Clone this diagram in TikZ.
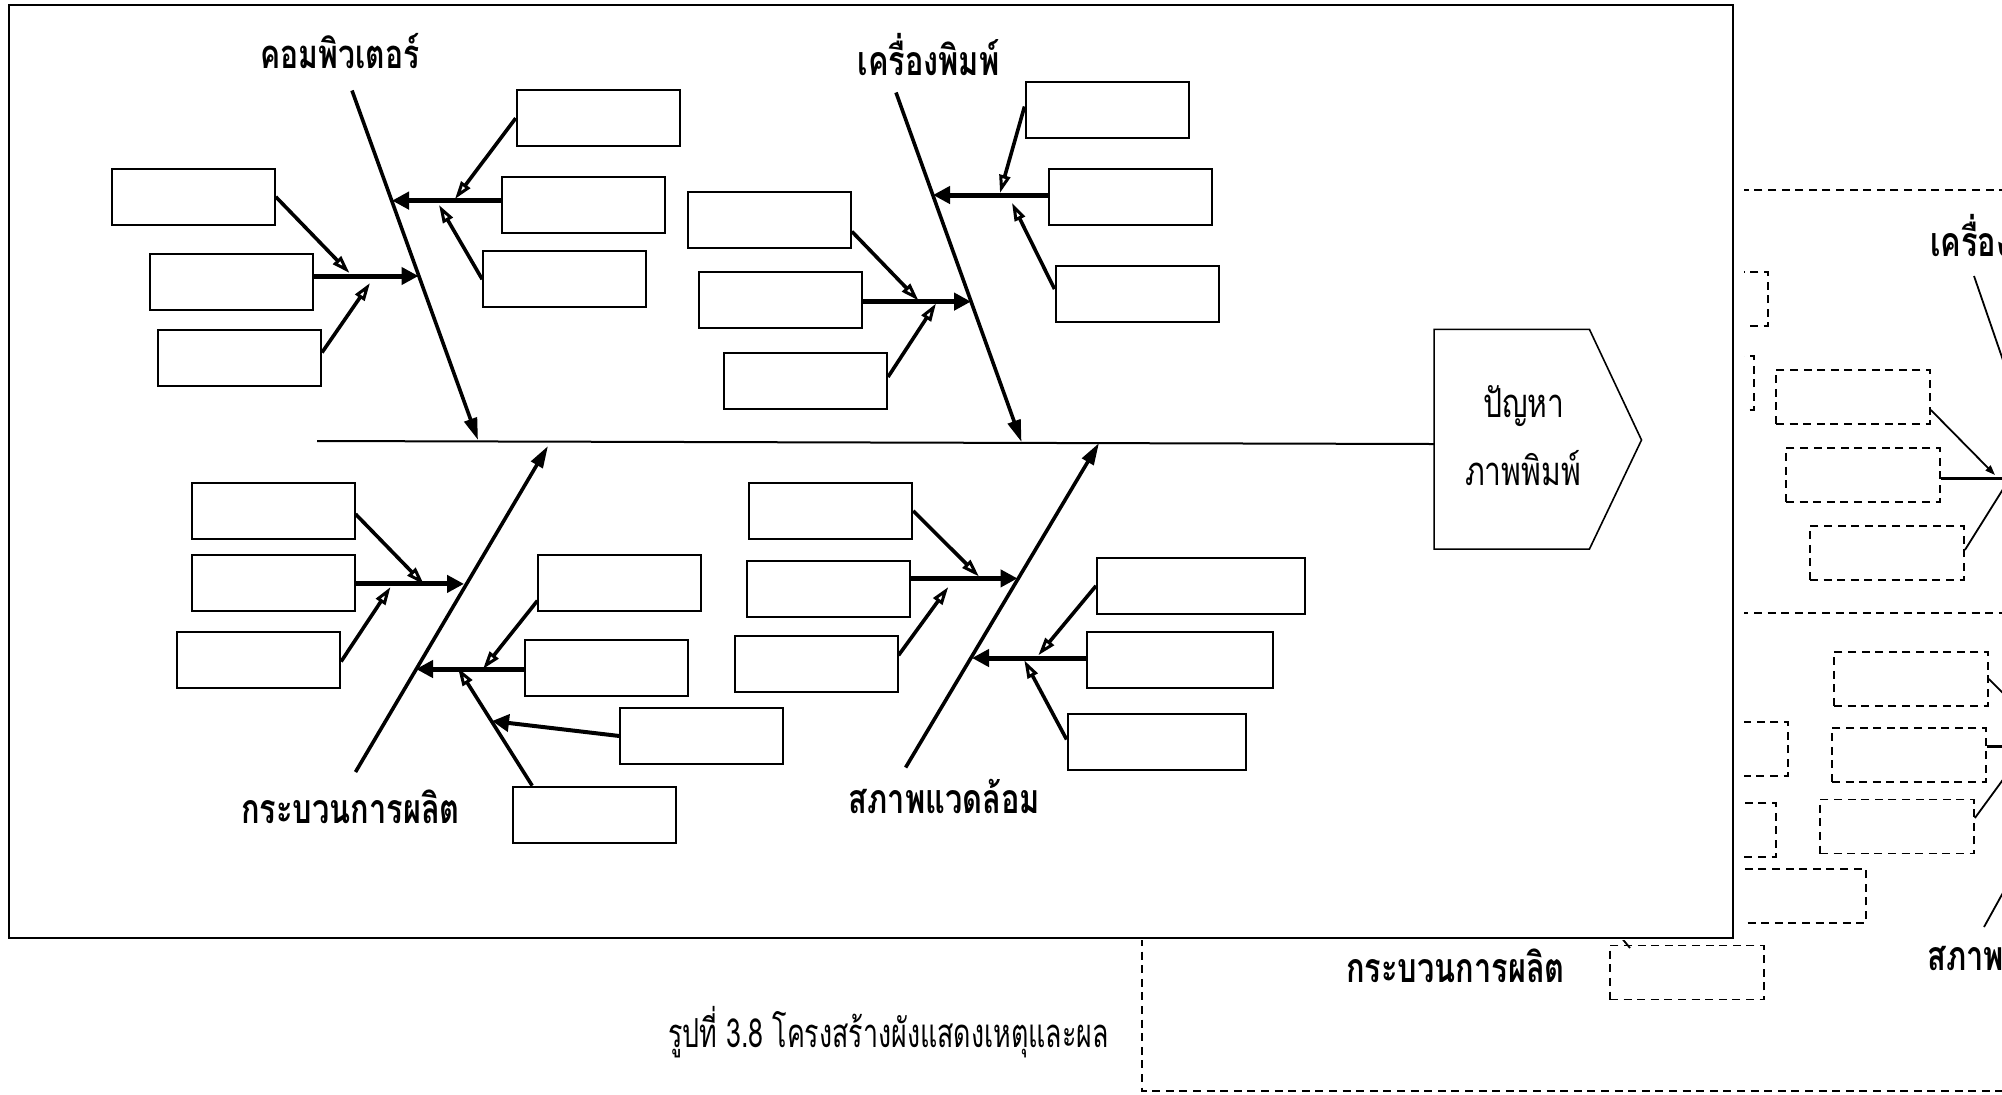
\documentclass[tikz,border=0pt]{standalone}
\usepackage{fontspec}
\newfontfamily\thai[Script=Thai,FakeStretch=0.75]{Loma}
\newfontfamily\thaicap[Script=Thai,FakeStretch=0.67]{Loma}
\usetikzlibrary{arrows.meta}
\begin{document}
\begin{tikzpicture}[x=0.5pt,y=-0.5pt,
  box/.style={draw,line width=1pt,minimum width=81.5pt,minimum height=28pt,inner sep=0pt},
  dbox/.style={draw,line width=0.9pt,dash pattern=on 4pt off 2.8pt,minimum width=77pt,minimum height=27pt,inner sep=0pt},
  dline/.style={line width=0.9pt,dash pattern=on 4pt off 2.8pt},
  rib/.style={line width=1.8pt,-{Triangle[length=11pt,width=6.5pt]}},
  ribopen/.style={line width=1.8pt,-{Triangle[open,length=9pt,width=5.5pt,line width=1.5pt]}},
  sub/.style={line width=2.5pt,-{Triangle[length=8.5pt,width=8.5pt]}},
  twig/.style={line width=1.8pt,-{Triangle[open,length=9pt,width=5.5pt,line width=1.5pt]}},
  bgl/.style={line width=0.9pt},
  lab/.style={font=\thai\bfseries\fontsize{20.5}{24}\selectfont,inner sep=0pt,anchor=base},
  txt/.style={font=\thai\fontsize{20}{24}\selectfont,inner sep=0pt,anchor=base}]
\useasboundingbox (0,0) rectangle (2002,1094);
\clip (0,0) rectangle (2002,1094);

% ---------- background (partly hidden) diagram ----------
\draw[dline] (1142,190) rectangle (2020,1091);
\draw[dline] (1142,613) -- (2020,613);
\node[dbox] (bA) at (1691,299) {};
\node[dbox] (bB) at (1677,383) {};
\node[dbox] (bC) at (1853,397) {};
\node[dbox] (bD) at (1863,475) {};
\node[dbox] (bE) at (1887,553) {};
\node[dbox] (bF) at (1911,679) {};
\node[dbox] (bG) at (1711,749) {};
\node[dbox] (bH) at (1909,755) {};
\node[dbox] (bI) at (1699,830) {};
\node[dbox] (bJ) at (1897,826.5) {};
\node[dbox,minimum width=100pt] (bK) at (1766,896) {};
\node[dbox] (bL) at (1687,972.5) {};
\coordinate (bR1a) at (1974,276);
\coordinate (bR1b) at (2016,398);
\draw[bgl] (bR1a) -- (bR1b);
\draw[bgl,-{Triangle[length=5pt,width=3.5pt]}] (bC.east |- 0,410) -- (1995,475);
\draw[line width=1.5pt] (bD.east |- 0,478) -- (2010,478);
\draw[bgl] (bE.east |- 0,550) -- (2010,478);
\draw[bgl] (bF.east) -- (2010,700);
\draw[line width=1.5pt] (bH.east |- 0,746) -- (2010,746);
\draw[bgl] (bJ.east |- 0,818) -- (2010,770);
\coordinate (bR2a) at (1984,927);
\coordinate (bR2b) at (2010,880);
\draw[bgl] (bR2a) -- (bR2b);
\coordinate (bR3a) at (1630,948);
\coordinate (bR3b) at (1620,936);
\draw[bgl] (bR3a) -- (bR3b);
\node[lab,anchor=base west] (bl1) at (1930,256.7) {เครื่องพิมพ์};
\node[lab,anchor=base west] (bl2) at (1927,970) {สภาพแวดล้อม};
\node[lab] (bl3) at (1455.5,982) {กระบวนการผลิต};

% ---------- white cover ----------
\fill[white] (0,0) rectangle (1744,940);

% ---------- main diagram ----------
\draw[line width=1.1pt] (9,5) rectangle (1733,938);

% head
\node[minimum width=77.25pt,minimum height=109.5pt,inner sep=0pt] (head) at (1511.75,439.2) {};
\coordinate (tip) at (1641.5,440);
\draw[line width=0.8pt] (head.north west) -- (head.north east) -- (tip) -- (head.south east) -- (head.south west) -- cycle;
\node[txt] (h1) at (1524,417.4) {ปัญหา};
\node[txt] (h2) at (1523,485.8) {ภาพพิมพ์};

% spine
\coordinate (spL) at (317,441);
\draw[line width=1pt] (spL) -- (head.west |- 0,444);

% labels
\node[lab,font=\thai\bfseries\fontsize{20}{24}\selectfont] (l1) at (340,68.4) {คอมพิวเตอร์};
\node[lab] (l2) at (928.5,75.4) {เครื่องพิมพ์};
\node[lab] (l3) at (350.5,823.7) {กระบวนการผลิต};
\node[lab] (l4) at (944.5,813.5) {สภาพแวดล้อม};

% boxes: computer
\node[box] (k1) at (598.2,118.2) {};
\node[box] (k2) at (583.9,205) {};
\node[box] (k3) at (564.7,279.3) {};
\node[box] (k4) at (193.3,196.8) {};
\node[box] (k5) at (231.2,281.5) {};
\node[box] (k6) at (239.5,357.8) {};
% boxes: printer
\node[box] (p1) at (1107,109.8) {};
\node[box] (p2) at (1130,196.8) {};
\node[box] (p3) at (1137,293.6) {};
\node[box] (p4) at (769.4,219.6) {};
\node[box] (p5) at (780,299.9) {};
\node[box] (p6) at (805.5,380.8) {};
% boxes: process
\node[box] (q1) at (273,510.8) {};
\node[box] (q2) at (273,583.2) {};
\node[box] (q3) at (258.6,659.9) {};
\node[box] (q4) at (619.9,583.2) {};
\node[box] (q5) at (606.8,667.9) {};
\node[box] (q6) at (701.9,736) {};
\node[box] (q7) at (594.7,814.7) {};
% boxes: environment
\node[box] (e1) at (830.7,510.8) {};
\node[box] (e2) at (828.7,589.3) {};
\node[box] (e3) at (816,664) {};
\node[box,minimum width=104pt] (e4) at (1201,585.8) {};
\node[box,minimum width=93pt] (e5) at (1179.9,659.7) {};
\node[box,minimum width=89pt] (e6) at (1156.6,742.4) {};

% ribs
\coordinate (ra1) at (352,90.5);   \coordinate (ra2) at (478,440);
\coordinate (rb1) at (896,92.5);   \coordinate (rb2) at (1021.5,442);
\coordinate (rc1) at (355.5,772);  \coordinate (rc2) at (548,446);
\coordinate (rd1) at (905.6,767.5);\coordinate (rd2) at (1099,443);
\draw[rib] (ra1) -- (ra2);
\draw[rib] (rb1) -- (rb2);
\draw[rib] (rc1) -- (rc2);
\draw[rib] (rd1) -- (rd2);

% computer branches
\coordinate (ka) at (392,200.6);
\coordinate (kb) at (418.5,276);
\draw[sub] (k2.west |- 0,200.6) -- (ka);
\draw[twig] (k1.west) -- (455,199);
\draw[twig] (k3.west) -- (439,205);
\draw[sub] (k5.east |- 0,276) -- (kb);
\draw[twig] (k4.east) -- (349.5,273);
\draw[twig] (k6.east |- 0,352.5) -- (370,283);

% printer branches
\coordinate (pa) at (933,195);
\coordinate (pb) at (971,301.6);
\draw[sub] (p2.west |- 0,195) -- (pa);
\draw[twig] (p1.west |- 0,106.5) -- (1000,193);
\draw[twig] (p3.west |- 0,289) -- (1012,203);
\draw[sub] (p5.east |- 0,301.6) -- (pb);
\draw[twig] (p4.east |- 0,231.5) -- (918.5,300.5);
\draw[twig] (p6.east |- 0,377) -- (936,303.5);

% process branches
\coordinate (qa) at (464,583.9);
\coordinate (qb) at (416,669);
\coordinate (qc) at (458,668);
\draw[sub] (q2.east |- 0,583.9) -- (qa);
\draw[twig] (q1.east |- 0,514) -- (424,584.5);
\draw[twig] (q3.east |- 0,661.5) -- (390.5,587);
\draw[sub] (q5.west |- 0,669) -- (qb);
\draw[twig] (q4.west |- 0,600.7) -- (483,669);
\draw[ribopen] ([xshift=10pt]q7.north west) -- (qc);
\draw[sub,line width=2pt] (q6.west) -- (492,721);

% environment branches
\coordinate (ea) at (1017.5,578.4);
\coordinate (eb) at (972,658);
\draw[sub] (e2.east |- 0,578.4) -- (ea);
\draw[twig] (e1.east) -- (979,576.5);
\draw[twig] (e3.east |- 0,655.3) -- (948.3,587);
\draw[sub] (e5.west |- 0,658) -- (eb);
\draw[twig] (e4.west) -- (1038.3,655.3);
\draw[twig] (e6.west |- 0,739.5) -- (1024.3,660.3);

% caption
\node[txt,font=\thaicap\fontsize{20}{24}\selectfont] (cap) at (888.5,1047.5) {รูปที่ 3.8 โครงสร้างผังแสดงเหตุและผล};
\end{tikzpicture}
\end{document}
